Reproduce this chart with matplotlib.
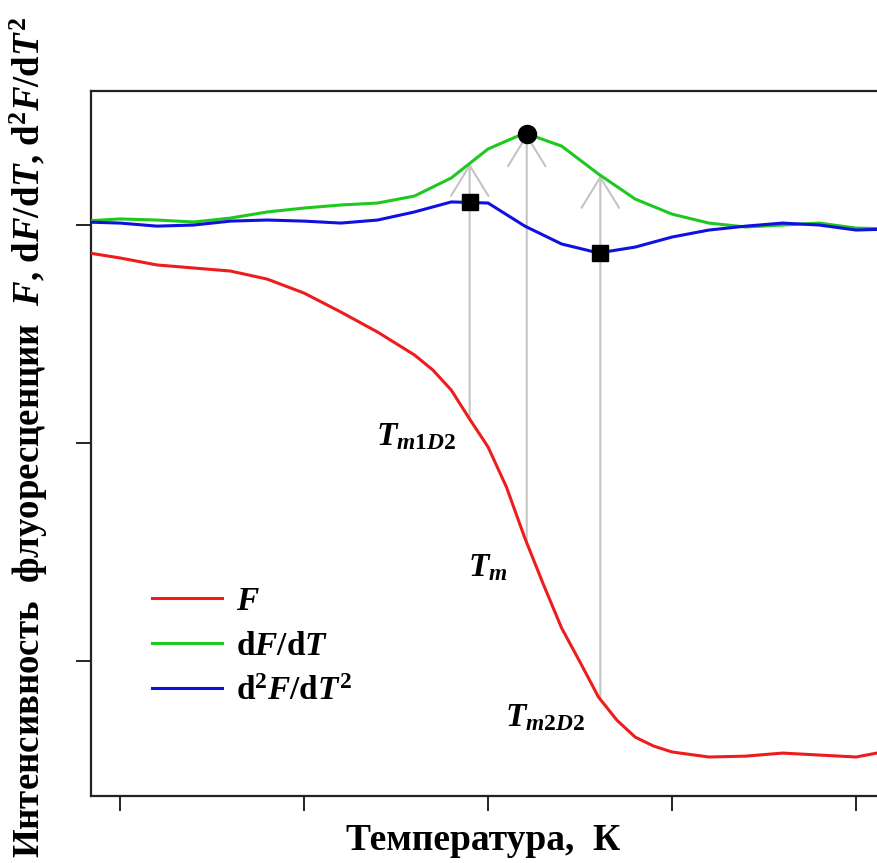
import numpy as np
import matplotlib
matplotlib.use("Agg")
import matplotlib.pyplot as plt

plt.rcParams["mathtext.fontset"] = "custom"
plt.rcParams["mathtext.rm"] = "Liberation Serif:bold"
plt.rcParams["mathtext.bf"] = "Liberation Serif:bold"
plt.rcParams["mathtext.it"] = "Liberation Serif:italic:bold"
plt.rcParams["font.family"] = "Liberation Serif"

# Fluorescence intensity F(T)
temp_f = [298, 300, 302, 304, 306, 308, 310, 312, 314, 316, 317, 318, 319, 320,
          321, 322, 323, 324, 325, 326, 327, 328, 329, 330, 332, 334, 336, 338,
          340, 342]
fluor = [-0.124, -0.151, -0.183, -0.197, -0.211, -0.248, -0.312, -0.399, -0.491,
         -0.596, -0.665, -0.757, -0.890, -1.018, -1.202, -1.436, -1.647, -1.849,
         -2.005, -2.165, -2.271, -2.349, -2.390, -2.417, -2.440, -2.436, -2.422,
         -2.431, -2.440, -2.408]

# First and second derivatives
temp_d = [298, 300, 302, 304, 306, 308, 310, 312, 314, 316, 318, 320, 322, 324,
          326, 328, 330, 332, 334, 336, 338, 340, 342]
dfdt = [0.018, 0.028, 0.023, 0.014, 0.032, 0.060, 0.078, 0.092, 0.101, 0.133,
        0.216, 0.349, 0.422, 0.362, 0.234, 0.119, 0.050, 0.009, -0.009, 0.000,
        0.009, -0.014, -0.018]
d2fdt2 = [0.014, 0.009, -0.005, 0.000, 0.018, 0.023, 0.018, 0.009, 0.023, 0.060,
          0.106, 0.101, -0.005, -0.087, -0.128, -0.101, -0.055, -0.023, -0.005,
          0.009, 0.000, -0.023, -0.018]

# Characteristic temperatures
t_m1 = 319.0
t_m = 322.1
t_m2 = 326.1
point_labels = [r"$T_{m\mathrm{1}D\mathrm{2}}$", r"$T_m$", r"$T_{m\mathrm{2}D\mathrm{2}}$"]

x_ticks = [300, 310, 320, 330, 340]
y_ticks = [-2, -1, 0]

fig = plt.figure(figsize=(8.78, 8.63), dpi=100)
ax = fig.add_axes([0.1036, 0.0776, 0.9272, 0.8170])

ax.plot(temp_f, fluor, color="#ee1c1c", lw=2.2, label=r"$F$", zorder=3)
ax.plot(temp_d, dfdt, color="#1ec81e", lw=2.2, label=r"$\mathrm{d}F/\mathrm{d}T$", zorder=3)
ax.plot(temp_d, d2fdt2, color="#1010e0", lw=2.2,
        label=r"$\mathrm{d}^2F/\mathrm{d}T^2$", zorder=3)

# Vertical arrows from F up to dF/dT at the characteristic temperatures
offsets = [(-10, -19), (-14, -24), (-11, -19)]
for t, lab, off in zip([t_m1, t_m, t_m2], point_labels, offsets):
    f0 = np.interp(t, temp_f, fluor)
    g0 = np.interp(t, temp_d, dfdt)
    ax.annotate("", xy=(t, g0), xytext=(t, f0),
                arrowprops=dict(arrowstyle="->,head_length=2.2,head_width=1.35",
                                mutation_scale=10, color="#c4c4c4", lw=1.5,
                                shrinkA=0, shrinkB=0),
                zorder=2)
    ax.annotate(lab, xy=(t, f0), xytext=off, textcoords="offset points",
                ha="right", va="baseline", fontsize=24)

# Extremum markers
ax.plot([t_m], [np.interp(t_m, temp_d, dfdt)], "o", color="black", ms=13, zorder=4)
ax.plot([t_m1, t_m2], np.interp([t_m1, t_m2], temp_d, d2fdt2), "s",
        color="black", ms=11, zorder=4)

ax.set_xlim(298.42, 342.66)
ax.set_ylim(-2.619, 0.615)
ax.set_xticks(x_ticks)
ax.set_yticks(y_ticks)
ax.set_xticklabels([])
ax.set_yticklabels([])
ax.tick_params(direction="out", length=11, width=1.4, color="#222222")
for side in ["left", "top", "bottom"]:
    ax.spines[side].set_linewidth(1.6)
    ax.spines[side].set_color("#222222")
ax.spines["right"].set_visible(False)

leg = ax.legend(loc="upper left", bbox_to_anchor=(0.059, 0.3165), frameon=False,
                fontsize=24, handlelength=2.1, handletextpad=0.4,
                labelspacing=0.44, borderaxespad=0)

fig.text(483 / 878, 1 - 850 / 863, "Температура,  К", ha="center", va="baseline",
         fontsize=27, fontweight="bold")
fig.text(29 / 878, 1 - 437 / 863,
         r"Интенсивность  флуоресценции  $F$, $\mathrm{d}F/\mathrm{d}T$, $\mathrm{d}^2F/\mathrm{d}T^2$",
         rotation=90, ha="center", va="center", fontsize=26.6, fontweight="bold")

fig.savefig("out.png", dpi=100)
